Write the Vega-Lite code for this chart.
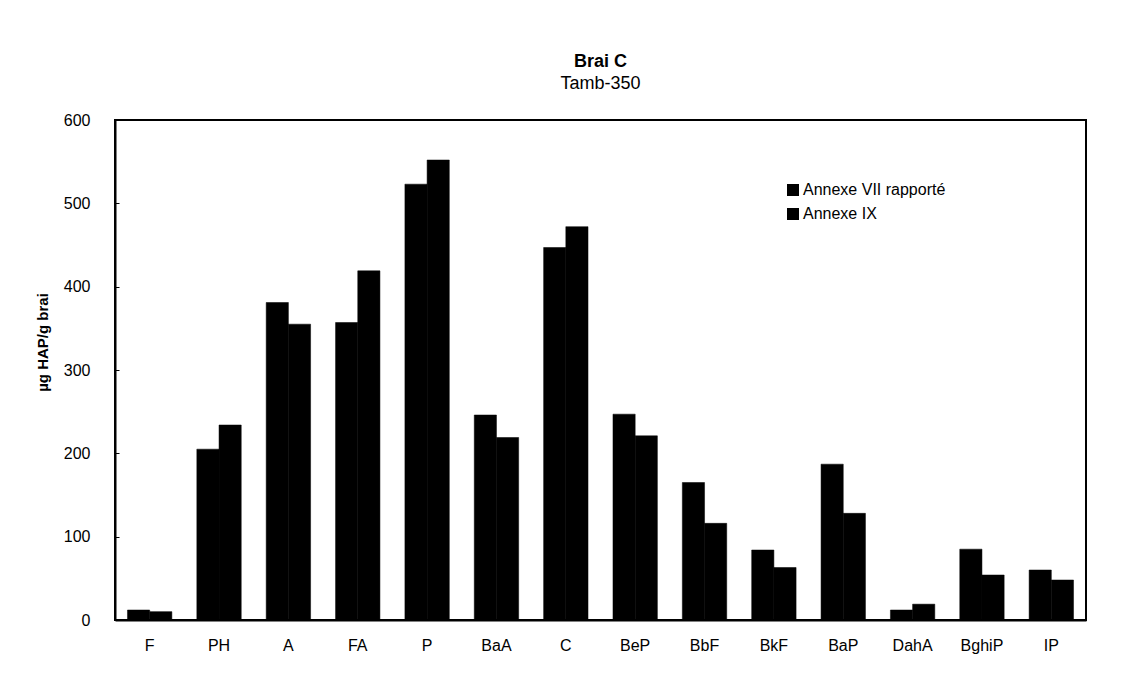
{
  "$schema": "https://vega.github.io/schema/vega-lite/v6.json",
  "autosize": "none",
  "width": 971,
  "height": 500,
  "padding": {"left": 115, "top": 120, "right": 46, "bottom": 61},
  "background": "white",
  "title": {
    "text": "Brai C",
    "subtitle": "Tamb-350",
    "anchor": "middle",
    "font": "Liberation Sans",
    "fontSize": 18,
    "fontWeight": "bold",
    "color": "black",
    "subtitleFont": "Liberation Sans",
    "subtitleFontSize": 18,
    "subtitleColor": "black",
    "subtitlePadding": 4,
    "offset": 19
  },
  "data": {
    "values": [
      {"c": "F", "s": "Annexe VII rapporté", "v": 12},
      {"c": "F", "s": "Annexe IX", "v": 10},
      {"c": "PH", "s": "Annexe VII rapporté", "v": 205},
      {"c": "PH", "s": "Annexe IX", "v": 234},
      {"c": "A", "s": "Annexe VII rapporté", "v": 381},
      {"c": "A", "s": "Annexe IX", "v": 355},
      {"c": "FA", "s": "Annexe VII rapporté", "v": 357},
      {"c": "FA", "s": "Annexe IX", "v": 419},
      {"c": "P", "s": "Annexe VII rapporté", "v": 523},
      {"c": "P", "s": "Annexe IX", "v": 552},
      {"c": "BaA", "s": "Annexe VII rapporté", "v": 246},
      {"c": "BaA", "s": "Annexe IX", "v": 219},
      {"c": "C", "s": "Annexe VII rapporté", "v": 447},
      {"c": "C", "s": "Annexe IX", "v": 472},
      {"c": "BeP", "s": "Annexe VII rapporté", "v": 247},
      {"c": "BeP", "s": "Annexe IX", "v": 221},
      {"c": "BbF", "s": "Annexe VII rapporté", "v": 165},
      {"c": "BbF", "s": "Annexe IX", "v": 116},
      {"c": "BkF", "s": "Annexe VII rapporté", "v": 84},
      {"c": "BkF", "s": "Annexe IX", "v": 63},
      {"c": "BaP", "s": "Annexe VII rapporté", "v": 187},
      {"c": "BaP", "s": "Annexe IX", "v": 128},
      {"c": "DahA", "s": "Annexe VII rapporté", "v": 12},
      {"c": "DahA", "s": "Annexe IX", "v": 19},
      {"c": "BghiP", "s": "Annexe VII rapporté", "v": 85},
      {"c": "BghiP", "s": "Annexe IX", "v": 54},
      {"c": "IP", "s": "Annexe VII rapporté", "v": 60},
      {"c": "IP", "s": "Annexe IX", "v": 48}
    ]
  },
  "mark": {"type": "bar", "color": "black", "stroke": "black", "strokeWidth": 0.5},
  "encoding": {
    "x": {
      "field": "c",
      "type": "nominal",
      "sort": null,
      "scale": {"paddingInner": 0.36, "paddingOuter": 0.18},
      "axis": {
        "title": null,
        "labelAngle": 0,
        "labelFont": "Liberation Sans",
        "labelFontSize": 16,
        "labelColor": "black",
        "labelPadding": 17,
        "ticks": false,
        "domainColor": "black",
        "domainWidth": 2
      }
    },
    "xOffset": {"field": "s", "type": "nominal", "sort": ["Annexe VII rapporté", "Annexe IX"]},
    "y": {
      "field": "v",
      "type": "quantitative",
      "scale": {"domain": [0, 600]},
      "axis": {
        "title": "µg HAP/g brai",
        "titleFont": "Liberation Sans",
        "titleFontSize": 15,
        "titleFontWeight": "bold",
        "titleColor": "black",
        "titlePadding": 13,
        "titleY": 222,
        "values": [0, 100, 200, 300, 400, 500, 600],
        "labelFont": "Liberation Sans",
        "labelFontSize": 16,
        "labelColor": "black",
        "labelPadding": 29,
        "tickSize": -4,
        "tickColor": "black",
        "grid": false,
        "domainColor": "black",
        "domainWidth": 2
      }
    },
    "color": {
      "field": "s",
      "type": "nominal",
      "sort": ["Annexe VII rapporté", "Annexe IX"],
      "scale": {"range": ["#000000", "#000000"]},
      "legend": {
        "title": null,
        "orient": "none",
        "legendX": 664,
        "legendY": 56,
        "symbolType": "square",
        "symbolSize": 144,
        "symbolStrokeWidth": 0,
        "labelFont": "Liberation Sans",
        "labelFontSize": 16,
        "labelColor": "black",
        "labelOffset": 2,
        "rowPadding": 8,
        "padding": 6
      }
    }
  },
  "config": {
    "view": {"stroke": "black", "strokeWidth": 2}
  }
}
